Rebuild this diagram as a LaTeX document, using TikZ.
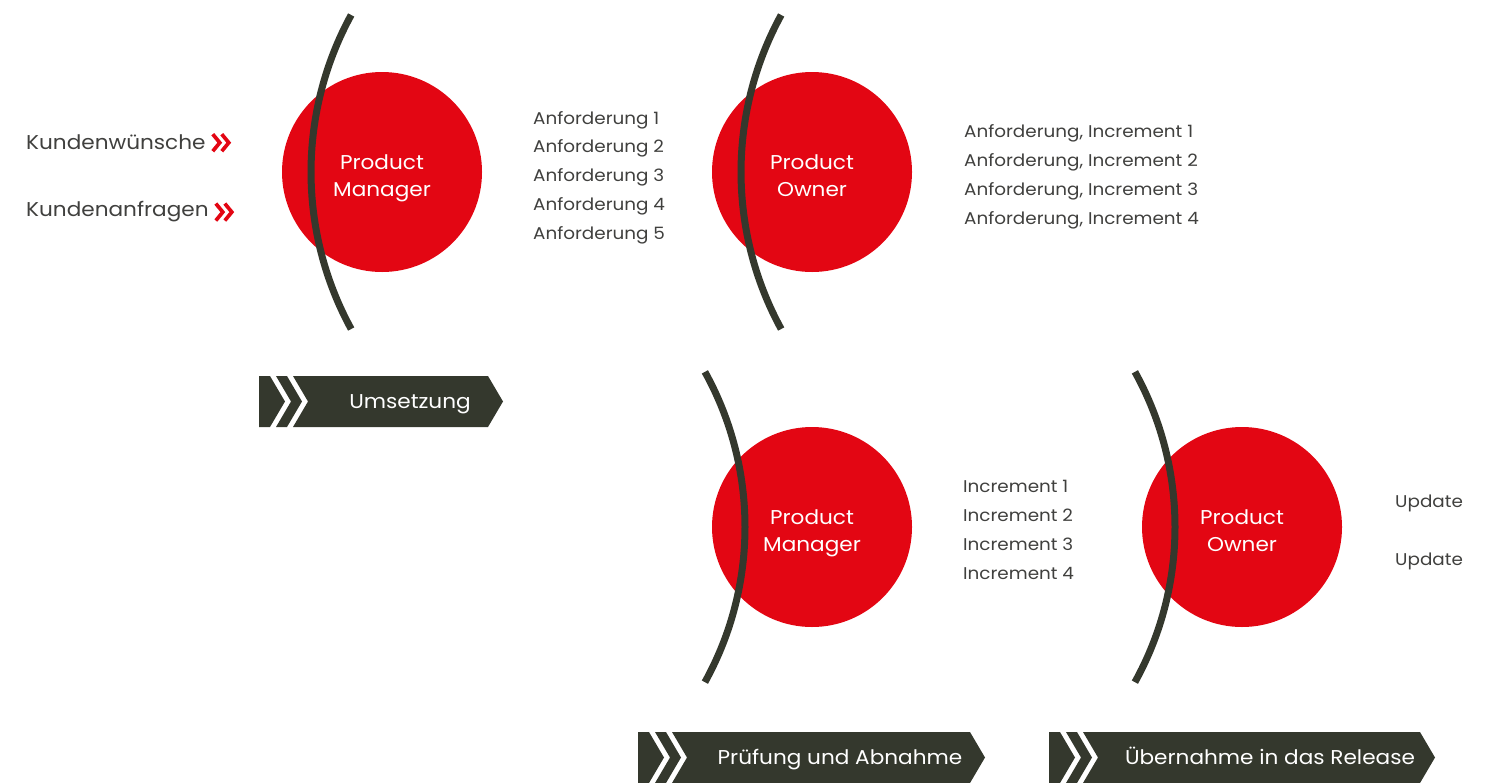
\documentclass[tikz,border=0pt]{standalone}
\usepackage{fontspec}
\setmainfont{Poppins}[FakeStretch=1.08]
\usetikzlibrary{positioning}

\definecolor{pmred}{RGB}{227,6,19}
\definecolor{pmdark}{RGB}{52,56,45}
\definecolor{pmgray}{RGB}{64,64,62}

\tikzset{
    role/.style={circle, fill=pmred, minimum size=200pt, inner sep=0pt,
        label={[roletext]center:#1}},
    roletext/.style={yshift=-6, text=white, align=center, text depth=5pt,
        font=\fontsize{20}{27}\selectfont},
    bow/.style={draw=pmdark, line width=7pt},
    item/.style={anchor=base west, inner sep=0pt, text=pmgray,
        font=\fontsize{17}{17}\selectfont},
    wish/.style={item, font=\fontsize{20}{20}\selectfont},
    marker/.style={draw=pmred, line width=3.7pt, miter limit=10},
    bannertext/.style={anchor=base, inner sep=0pt, text=white,
        font=\fontsize{20}{20}\selectfont}
}

\begin{document}
\begin{tikzpicture}[x=1pt, y=-1pt]
                    \useasboundingbox (0,0) rectangle (1487,782);

                    \node[role={Product\\Manager}] (pm1) at (382,172) {};
                    \node[role={Product\\Owner}] (po1) at (812,172) {};
                    \node[role={Product\\Manager}] (pm2) at (812,527) {};
                    \node[role={Product\\Owner}] (po2) at (1242,527) {};

                    \foreach \n in {pm1,po1} {
                        \draw[bow] ([xshift=256]\n.center) ++(208.7:327) arc[start angle=208.7, end angle=151.3, radius=327];
                    }
                    \foreach \n in {pm2,po2} {
                        \draw[bow] ([xshift=-387]\n.center) ++(-29:320) arc[start angle=-29, end angle=29, radius=320];
                    }

                    \node[wish] (kw) at (26,149) {Kundenwünsche};
                    \node[wish] (ka) at (26,216) {Kundenanfragen};
                    \foreach \n in {kw,ka} {
                        \foreach \dx in {0,9} {
                            \draw[marker] ([xshift=7+\dx, yshift=-1]\n.east) ++(0,-8.5) -- ++(7,8.5) -- ++(-7,8.5);
                        }
                    }

                    \foreach \i in {1,...,5} {
                        \node[item] (req\i) at (533,{124+28.75*(\i-1)}) {Anforderung \i};
                    }
                    \foreach \i in {1,...,4} {
                        \node[item] (reqinc\i) at (964,{137+29*(\i-1)}) {Anforderung, Increment \i};
                        \node[item] (inc\i) at (963,{492+29*(\i-1)}) {Increment \i};
                    }
                    \node[item] (upd1) at (1395,507) {Update};
                    \node[item] (upd2) at (1395,565) {Update};

                    \foreach \x/\y/\w/\t/\lbl [count=\bi] in {259/376/229/410/Umsetzung, 638/732/332/840/Prüfung und Abnahme, 1049/732/371/1270/Übernahme in das Release} {
                        \fill[pmdark] (\x,\y) -- ++(11,0) -- ++(15,25.5) -- ++(-15,25.5) -- ++(-11,0) -- cycle;
                        \fill[pmdark] (\x+17,\y) -- ++(11,0) -- ++(15,25.5) -- ++(-15,25.5) -- ++(-11,0) -- ++(15,-25.5) -- cycle;
                        \fill[pmdark] (\x+34,\y) -- (\x+\w,\y) -- ++(15,25.5) -- ++(-15,25.5) -- (\x+34,\y+51) -- ++(15,-25.5) -- cycle;
                        \node[bannertext] (phase\bi) at (\t,\y+32.5) {\lbl};
                    }
\end{tikzpicture}
\end{document}
